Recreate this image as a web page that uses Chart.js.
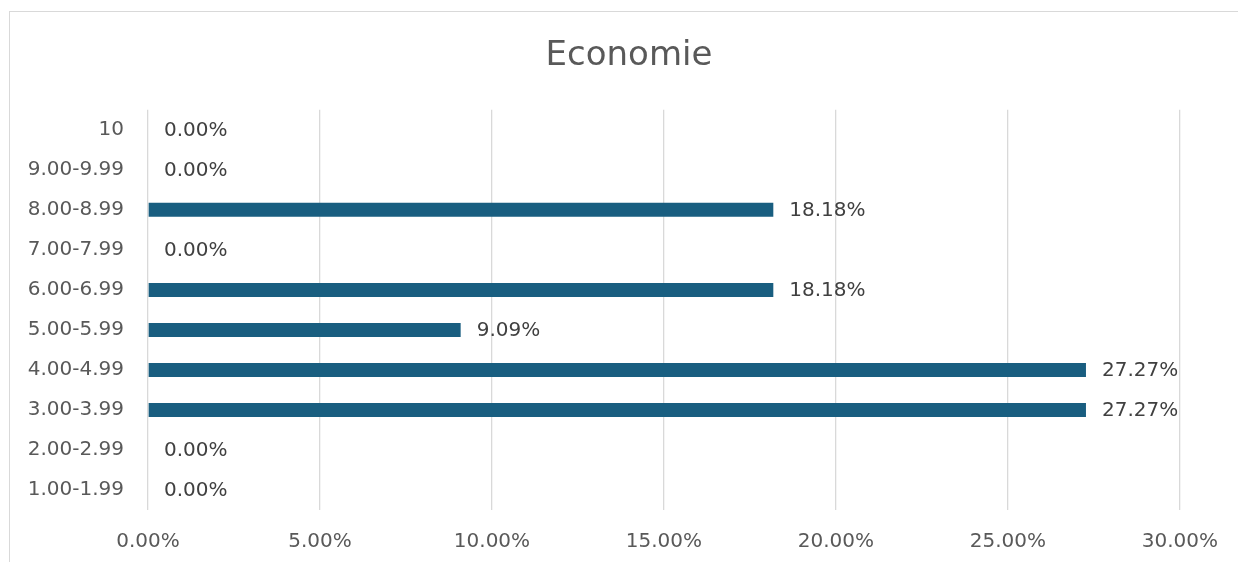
<!DOCTYPE html>
<html>
<head>
<meta charset="utf-8">
<script src="https://cdn.jsdelivr.net/npm/chart.js@4.4.1/dist/chart.umd.min.js"></script>
<style>
  html, body { margin: 0; padding: 0; background: #fff; overflow: hidden; }
  #wrap { position: relative; width: 1238px; height: 562px; }
  #frame {
    position: absolute; left: 9px; top: 11px; width: 2000px; height: 2000px;
    border: 1px solid #d9d9d9; pointer-events: none;
  }
</style>
</head>
<body>
<div id="wrap">
  <canvas id="chart" width="1238" height="562"></canvas>
  <div id="frame"></div>
</div>
<script>
// Chart data (top row first, as drawn)
const categories = ["10", "9.00-9.99", "8.00-8.99", "7.00-7.99", "6.00-6.99",
  "5.00-5.99", "4.00-4.99", "3.00-3.99", "2.00-2.99", "1.00-1.99"];
const shares = [0, 0, 18.18, 0, 18.18, 9.09, 27.27, 27.27, 0, 0];
const axisMax = 30;
const axisStep = 5;

const FONT = "'DejaVu Sans', sans-serif";

// Draw value labels next to each bar
const valueLabels = {
  id: "valueLabels",
  afterDatasetsDraw(chart) {
    const ctx = chart.ctx;
    const meta = chart.getDatasetMeta(0);
    ctx.save();
    ctx.font = "20px " + FONT;
    ctx.fillStyle = "#404040";
    ctx.textAlign = "left";
    ctx.textBaseline = "middle";
    meta.data.forEach(function (bar, i) {
      const txt = shares[i].toFixed(2) + "%";
      ctx.fillText(txt, bar.x + 16, bar.y + 1);
    });
    ctx.restore();
  },
};

new Chart(document.getElementById("chart"), {
  type: "bar",
  data: {
    labels: categories,
    datasets: [
      {
        data: shares,
        backgroundColor: "#195e80",
        borderWidth: 0,
        barPercentage: 0.35,
        categoryPercentage: 1,
      },
    ],
  },
  options: {
    indexAxis: "y",
    responsive: false,
    animation: false,
    layout: { padding: { left: 20, right: 0, top: 0, bottom: 0 } },
    plugins: {
      legend: { display: false },
      tooltip: { enabled: false },
      title: {
        display: true,
        text: "Economie",
        color: "#595959",
        font: { family: FONT, size: 34, weight: "normal" },
        padding: { top: 36, bottom: 33 },
      },
    },
    scales: {
      x: {
        min: 0,
        max: axisMax,
        border: { display: false },
        grid: { color: "#d9d9d9", lineWidth: 1.3, drawTicks: false },
        ticks: {
          stepSize: axisStep,
          padding: 20,
          color: "#595959",
          font: { family: FONT, size: 20 },
          callback: function (v) {
            return v.toFixed(2) + "%";
          },
        },
        afterFit: function (scale) {
          scale.height = 52;
        },
      },
      y: {
        border: { display: false },
        grid: { display: false, drawTicks: false },
        ticks: {
          padding: 24,
          color: "#595959",
          font: { family: FONT, size: 20 },
        },
        afterFit: function (scale) {
          scale.width = 128;
        },
      },
      // empty right-hand spacer so the plot stops short of the edge
      yRight: {
        type: "category",
        position: "right",
        border: { display: false },
        grid: { display: false, drawTicks: false },
        ticks: { display: false },
        afterFit: function (scale) {
          scale.width = 57;
        },
      },
    },
  },
  plugins: [valueLabels],
});
</script>
</body>
</html>
